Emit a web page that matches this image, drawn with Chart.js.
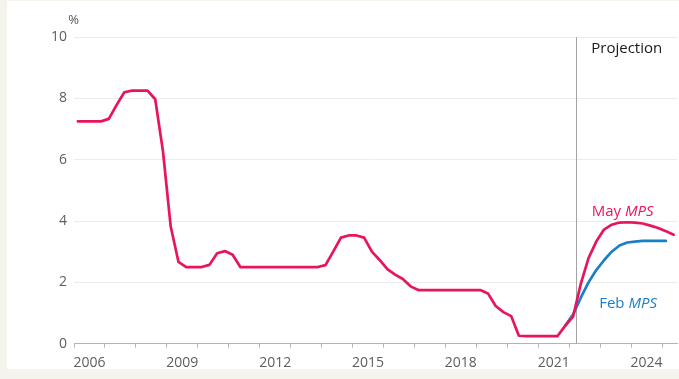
<!DOCTYPE html>
<html><head><meta charset="utf-8">
<script src="https://cdn.jsdelivr.net/npm/chart.js@4"></script>
<style>
html,body{margin:0;padding:0;background:#f4f3ec;width:679px;height:379px;overflow:hidden}
#panel{position:absolute;left:7px;top:1px;width:672px;height:368px;background:#fff}
canvas{display:block}
</style></head><body>
<div id="panel"><canvas id="c" width="672" height="368"></canvas></div>
<script>
// Quarterly categories, 2006 Q1 .. 2025 Q2
const quarters = [];
for (let y = 2006; y <= 2025; y++) for (let q = 1; q <= 4; q++) if (!(y === 2025 && q > 2)) quarters.push(y + ' Q' + q);

// Policy rate, history + May MPS projection (%)
const mayMPS = [
  7.25, 7.25, 7.25, 7.25,
  7.33, 7.78, 8.20, 8.25,
  8.25, 8.25, 7.97, 6.27,
  3.82, 2.67, 2.50, 2.50,
  2.50, 2.57, 2.95, 3.02,
  2.90, 2.50, 2.50, 2.50,
  2.50, 2.50, 2.50, 2.50,
  2.50, 2.50, 2.50, 2.50,
  2.56, 3.00, 3.46, 3.53,
  3.53, 3.46, 3.00, 2.73,
  2.43, 2.25, 2.11, 1.87,
  1.75, 1.75, 1.75, 1.75,
  1.75, 1.75, 1.75, 1.75,
  1.75, 1.64, 1.23, 1.03,
  0.90, 0.26, 0.25, 0.25,
  0.25, 0.25, 0.25, 0.59,
  0.88, 1.95, 2.79, 3.33,
  3.72, 3.88, 3.95, 3.96,
  3.95, 3.92, 3.85, 3.77,
  3.67, 3.55
];
// Feb MPS projection (%), from 2021 Q4 to 2025 Q1
const febStart = '2021 Q4';
const febMPS = [0.59, 0.95, 1.50, 2.00, 2.40, 2.72, 3.00, 3.20, 3.30, 3.33, 3.35, 3.35, 3.35, 3.35];

const yTicks = [0, 2, 4, 6, 8, 10];
const xTickLabels = ['2006', '2009', '2012', '2015', '2018', '2021', '2024'];
const projectionStart = 2022.23;
const seriesNames = ['May', 'Feb'];

const PINK = '#e8145d';
const BLUE = '#1a7fc6';
const FONT = "'Open Sans', sans-serif";

function qToX(label) {
  const [y, q] = label.split(' Q');
  return Number(y) + (Number(q) - 0.5) / 4;
}
const mayPts = mayMPS.map((v, i) => ({x: qToX(quarters[i]), y: v}));
const f0 = quarters.indexOf(febStart);
const febPts = febMPS.map((v, i) => ({x: qToX(quarters[f0 + i]), y: v}));

const xTickValues = [];
for (let v = 2006; v <= 2025.5; v += 0.5) xTickValues.push(v);

const annot = {
  id: 'annot',
  beforeDatasetsDraw(chart) {
    const {ctx, chartArea, scales} = chart;
    const px = scales.x.getPixelForValue(projectionStart);
    ctx.save();
    ctx.strokeStyle = '#a3a3a3';
    ctx.lineWidth = 1;
    ctx.beginPath();
    ctx.moveTo(Math.round(px) + 0.5, chartArea.top);
    ctx.lineTo(Math.round(px) + 0.5, chartArea.bottom);
    ctx.stroke();
    ctx.restore();
  },
  afterDraw(chart) {
    const {ctx, chartArea, scales} = chart;
    const xs = scales.x, ys = scales.y;
    ctx.save();
    ctx.textBaseline = 'alphabetic';
    // unit
    ctx.fillStyle = '#555';
    ctx.font = '13px ' + FONT;
    ctx.textAlign = 'center';
    ctx.fillText('%', chartArea.left - 0.5, 23);
    // projection label
    ctx.textAlign = 'left';
    ctx.fillStyle = '#1a1a1a';
    ctx.font = '15px ' + FONT;
    ctx.fillText('Projection', xs.getPixelForValue(projectionStart) + 15, ys.getPixelForValue(9.48));
    // series labels with italic MPS
    function mixed(name, color, xv, yv) {
      const x = xs.getPixelForValue(xv), y = ys.getPixelForValue(yv);
      ctx.fillStyle = color;
      ctx.font = '15px ' + FONT;
      const a = name + ' ';
      ctx.fillText(a, x, y);
      const w = ctx.measureText(a).width;
      ctx.font = 'italic 15px ' + FONT;
      ctx.fillText('MPS', x + w, y);
    }
    mixed(seriesNames[0], PINK, 2022.73, 4.17);
    mixed(seriesNames[1], BLUE, 2022.97, 1.16);
    ctx.restore();
  }
};

new Chart(document.getElementById('c'), {
  type: 'line',
  data: {
    datasets: [
      {label: seriesNames[0] + ' MPS', data: mayPts, borderColor: PINK, borderWidth: 2.7, pointRadius: 0, tension: 0, borderJoinStyle: 'round', borderCapStyle: 'round'},
      {label: seriesNames[1] + ' MPS', data: febPts, borderColor: BLUE, borderWidth: 2.7, pointRadius: 0, tension: 0, borderJoinStyle: 'round', borderCapStyle: 'round'}
    ]
  },
  options: {
    responsive: false,
    animation: false,
    events: [],
    layout: {padding: {top: 36, right: 1.5, left: 0, bottom: 0}},
    plugins: {legend: {display: false}, tooltip: {enabled: false}},
    scales: {
      x: {
        type: 'linear', min: 2006, max: 2025.5,
        afterBuildTicks(s) { s.ticks = xTickValues.map(v => ({value: v})); },
        afterFit(s) { s.height = 25.3; s.paddingLeft = 0; s.paddingRight = 0; },
        grid: {
          drawOnChartArea: false, tickLength: 4,
          tickColor: c => (c.tick && Number.isInteger(c.tick.value)) ? '#b3b3b3' : 'rgba(0,0,0,0)'
        },
        border: {color: '#b3b3b3', width: 1},
        ticks: {
          autoSkip: false, maxRotation: 0, minRotation: 0, padding: 7,
          color: '#5e5e5e', font: {family: FONT, size: 14},
          callback: v => { const s = String(v - 0.5); return xTickLabels.includes(s) ? s : ''; }
        }
      },
      y: {
        min: 0, max: 10,
        afterBuildTicks(s) { s.ticks = yTicks.map(v => ({value: v})); },
        afterFit(s) { s.width = 67; s.paddingTop = 0; s.paddingBottom = 0; },
        grid: {color: '#ececec', drawTicks: false, lineWidth: 1},
        border: {display: false},
        ticks: {padding: 7, color: '#5e5e5e', font: {family: FONT, size: 14}}
      }
    }
  },
  plugins: [annot]
});
</script>
</body></html>
